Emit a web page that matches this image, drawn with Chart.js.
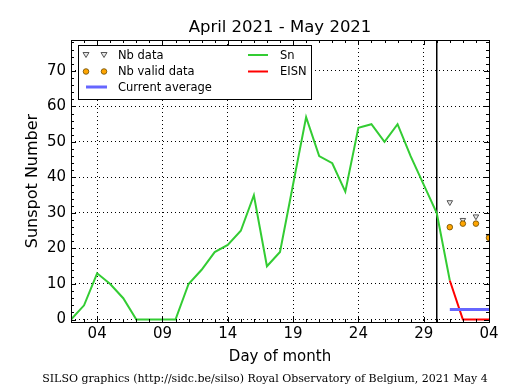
<!DOCTYPE html>
<html>
<head>
<meta charset="utf-8">
<script src="https://cdn.jsdelivr.net/npm/chart.js@4"></script>
<style>
  html, body { margin: 0; padding: 0; background: #fff; }
  #wrap { width: 515px; height: 390px; }
</style>
</head>
<body>
<div id="wrap"><canvas id="chart" width="515" height="390"></canvas></div>
<script>
// ---------- data ----------
// x axis counts days from April 1, so May 4 is day 34
const firstDay = 2;
const lastDay = 34;
const splitDay = 30; // end of April marker
const snValues = [0, 4, 13, 10, 6, 0, 0, 0, 0, 10, 14, 19, 21, 25, 35, 15, 19, 38, 57,
  46, 44, 36, 54, 55, 50, 55, 46, 38, 30, 11]; // Apr 2 .. May 1
const eisnDays = [31, 32, 33, 34];
const eisnValues = [11, 0, 0, 0];
const avgDays = [31, 34];
const avgValues = [2.8, 2.8];
const nbDays = [31, 32, 33, 34];
const nbData = [33, 28, 29, 23.5];
const nbValid = [26, 27, 27, 23];
const xMajor = [4, 9, 14, 19, 24, 29, 34];
const yMajor = [0, 10, 20, 30, 40, 50, 60, 70];

// ---------- helpers ----------
const pts = (xs, ys) => xs.map((x, i) => ({ x, y: ys[i] }));
const dayLabel = (v) => String(v > 30 ? v - 30 : v).padStart(2, "0");
const range = (a, b, s) => {
  const out = [];
  for (let v = a; v <= b; v += s) out.push(v);
  return out;
};
const xTicks = range(firstDay, lastDay, 1);
const yTicks = range(0, 78, 2);
const yMin = -0.7, yMax = 78.7;

const GREEN = "#33cc33", RED = "#ff0000", BLUE = "#6666ff";
const FONT = "DejaVu Sans";

// ---------- decorations: frame, inward ticks, texts, legend ----------
const decor = {
  id: "decor",
  beforeDatasetsDraw(chart) {
    const { ctx, chartArea: a, scales: { x } } = chart;
    const px = x.getPixelForValue(splitDay);
    ctx.save();
    ctx.strokeStyle = "#000";
    ctx.lineWidth = 1.5;
    ctx.beginPath();
    ctx.moveTo(px, a.top);
    ctx.lineTo(px, a.bottom);
    ctx.stroke();
    ctx.restore();
  },
  afterDatasetsDraw(chart) {
    const { ctx, chartArea: a, scales: { x, y } } = chart;
    ctx.save();
    ctx.strokeStyle = "#000";
    ctx.lineWidth = 1;
    ctx.beginPath();
    xTicks.forEach((v) => {
      const p = Math.round(x.getPixelForValue(v)) + 0.5;
      const len = xMajor.includes(v) ? 5 : 3;
      ctx.moveTo(p, a.bottom); ctx.lineTo(p, a.bottom - len);
      ctx.moveTo(p, a.top); ctx.lineTo(p, a.top + len);
    });
    yTicks.forEach((v) => {
      const p = Math.round(y.getPixelForValue(v)) + 0.5;
      const len = v % 10 === 0 ? 5 : 3;
      ctx.moveTo(a.left, p); ctx.lineTo(a.left + len, p);
      ctx.moveTo(a.right, p); ctx.lineTo(a.right - len, p);
    });
    ctx.stroke();
    ctx.strokeRect(Math.round(a.left) + 0.5, Math.round(a.top) + 0.5,
      Math.round(a.right - a.left), Math.round(a.bottom - a.top));
    ctx.restore();
  },
  afterDraw(chart) {
    const { ctx, chartArea: a } = chart;
    const cx = (a.left + a.right) / 2;
    ctx.save();
    ctx.fillStyle = "#000";
    ctx.textAlign = "center";
    ctx.textBaseline = "alphabetic";

    ctx.font = `16.5px "${FONT}"`;
    ctx.fillText("April 2021 - May 2021", cx, 32);

    ctx.font = `15px "${FONT}"`;
    ctx.fillText("Day of month", cx, 361);

    ctx.save();
    ctx.translate(37, 181);
    ctx.rotate(-Math.PI / 2);
    ctx.font = `16px "${FONT}"`;
    ctx.fillText("Sunspot Number", 0, 0);
    ctx.restore();

    ctx.font = `11px "DejaVu Serif"`;
    ctx.fillText("SILSO graphics (http://sidc.be/silso) Royal Observatory of Belgium, 2021 May 4", 265, 382);

    // legend
    ctx.fillStyle = "#fff";
    ctx.fillRect(78.5, 45.5, 233, 54);
    ctx.strokeStyle = "#000";
    ctx.lineWidth = 1;
    ctx.strokeRect(78.5, 45.5, 233, 54);

    const tri = (px, py) => {
      ctx.beginPath();
      ctx.moveTo(px - 3, py - 2.5);
      ctx.lineTo(px + 3, py - 2.5);
      ctx.lineTo(px, py + 2.5);
      ctx.closePath();
      ctx.fillStyle = "#e8e8e8";
      ctx.fill();
      ctx.strokeStyle = "#555";
      ctx.stroke();
    };
    const dot = (px, py) => {
      ctx.beginPath();
      ctx.arc(px, py, 2.8, 0, Math.PI * 2);
      ctx.fillStyle = "#ffa500";
      ctx.fill();
      ctx.strokeStyle = "#6b4a00";
      ctx.lineWidth = 0.8;
      ctx.stroke();
      ctx.lineWidth = 1;
    };
    const seg = (x1, x2, py, color, w) => {
      ctx.beginPath();
      ctx.moveTo(x1, py);
      ctx.lineTo(x2, py);
      ctx.strokeStyle = color;
      ctx.lineWidth = w;
      ctx.stroke();
      ctx.lineWidth = 1;
    };
    tri(86, 55); tri(104, 55);
    dot(86, 71.5); dot(104, 71.5);
    seg(86, 107, 87, BLUE, 3);
    seg(248, 268, 55, GREEN, 2);
    seg(248, 268, 71.5, RED, 2);

    ctx.fillStyle = "#000";
    ctx.textAlign = "left";
    ctx.textBaseline = "middle";
    ctx.font = `11.5px "${FONT}"`;
    ctx.fillText("Nb data", 118, 56);
    ctx.fillText("Nb valid data", 118, 72.5);
    ctx.fillText("Current average", 118, 88);
    ctx.fillText("Sn", 280, 56);
    ctx.fillText("EISN", 280, 72.5);
    ctx.restore();
  },
};

// ---------- chart ----------
new Chart(document.getElementById("chart"), {
  type: "line",
  data: {
    datasets: [
      {
        label: "Nb valid data",
        data: pts(nbDays, nbValid),
        showLine: false,
        pointStyle: "circle",
        pointRadius: 2.8,
        pointBackgroundColor: "#ffa500",
        pointBorderColor: "#6b4a00",
        pointBorderWidth: 0.8,
      },
      {
        label: "Nb data",
        data: pts(nbDays, nbData),
        showLine: false,
        pointStyle: "triangle",
        rotation: 180,
        pointRadius: 3.2,
        pointBackgroundColor: "#e8e8e8",
        pointBorderColor: "#555",
        pointBorderWidth: 1,
      },
      {
        label: "Current average",
        data: pts(avgDays, avgValues),
        borderColor: BLUE,
        borderWidth: 3,
        pointRadius: 0,
      },
      {
        label: "EISN",
        data: pts(eisnDays, eisnValues),
        borderColor: RED,
        borderWidth: 2,
        pointRadius: 0,
      },
      {
        label: "Sn",
        data: snValues.map((v, i) => ({ x: firstDay + i, y: v })),
        borderColor: GREEN,
        borderWidth: 2,
        pointRadius: 0,
      },
    ],
  },
  options: {
    responsive: false,
    animation: false,
    devicePixelRatio: 1,
    layout: { padding: { top: 40, right: 26, left: 0, bottom: 0 } },
    plugins: {
      legend: { display: false },
      title: { display: false },
      tooltip: { enabled: false },
    },
    scales: {
      x: {
        type: "linear",
        min: firstDay,
        max: lastDay,
        afterFit: (s) => { s.height = 68; },
        afterBuildTicks: (s) => { s.ticks = xTicks.map((v) => ({ value: v })); },
        ticks: {
          autoSkip: false,
          maxRotation: 0,
          padding: 3,
          color: "#000",
          font: { family: FONT, size: 15 },
          callback: (v) => (xMajor.includes(v) ? dayLabel(v) : ""),
        },
        grid: {
          drawTicks: false,
          lineWidth: 1,
          color: (c) => (c.tick && xMajor.includes(c.tick.value) ? "#000" : "rgba(0,0,0,0)"),
        },
        border: { display: false, dash: [1, 3] },
      },
      y: {
        type: "linear",
        min: yMin,
        max: yMax,
        afterFit: (s) => { s.width = 71; },
        afterBuildTicks: (s) => { s.ticks = yTicks.map((v) => ({ value: v })); },
        ticks: {
          autoSkip: false,
          padding: 5,
          color: "#000",
          font: { family: FONT, size: 15 },
          callback: (v) => (yMajor.includes(v) ? String(v) : ""),
        },
        grid: {
          drawTicks: false,
          lineWidth: 1,
          color: (c) => (c.tick && yMajor.includes(c.tick.value) ? "#000" : "rgba(0,0,0,0)"),
        },
        border: { display: false, dash: [1, 3] },
      },
    },
  },
  plugins: [decor],
});
</script>
</body>
</html>
